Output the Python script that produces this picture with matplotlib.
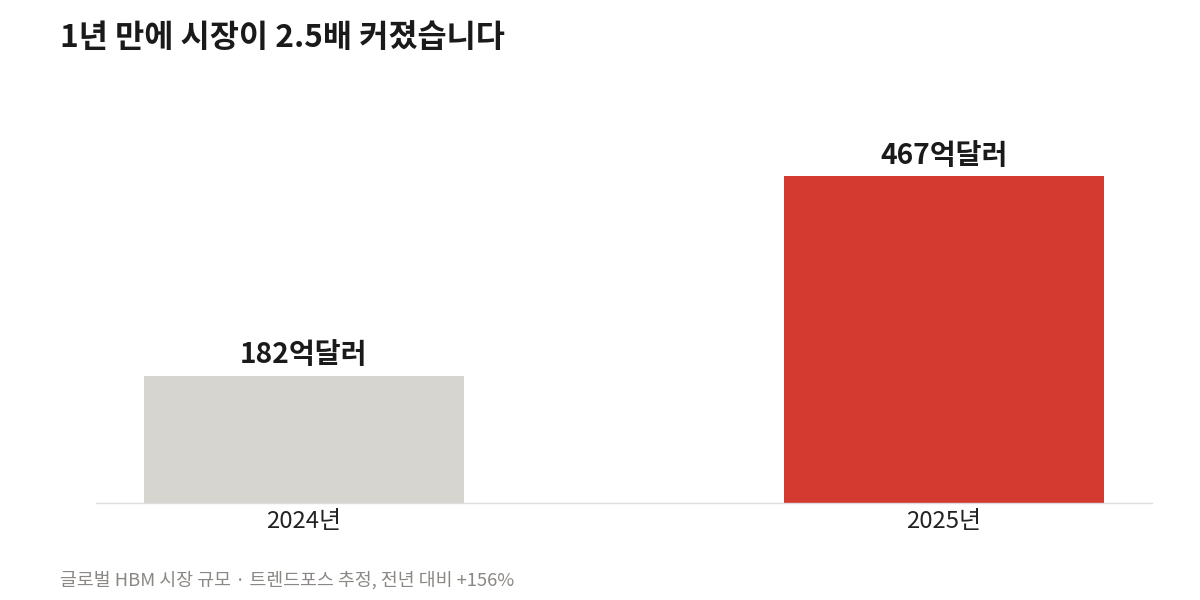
import matplotlib
matplotlib.use("Agg")
import matplotlib.pyplot as plt

plt.rcParams['font.family'] = ['Noto Sans CJK KR', 'DejaVu Sans']

categories = ["2024년", "2025년"]
values = [182, 467]
value_labels = ["182억달러", "467억달러"]
colors = ["#D6D5D0", "#D43A2F"]
title = "1년 만에 시장이 2.5배 커졌습니다"
footer = "글로벌 HBM 시장 규모 · 트렌드포스 추정, 전년 대비 +156%"

fig = plt.figure(figsize=(12, 6), dpi=100)
ax = fig.add_axes([0.08, 0.1617, 0.88, 0.6067])

x = list(range(len(categories)))
bars = ax.bar(x, values, width=0.5, color=colors, zorder=2)
ax.set_xlim(-0.325, 1.325)
ax.set_ylim(0, 520)

for xi, v, lab in zip(x, values, value_labels):
    ax.annotate(lab, (xi, v), xytext=(0, 4.5), textcoords="offset points",
                ha="center", va="bottom", fontsize=20.3, fontweight="bold",
                color="#1a1a1a")

ax.set_xticks(x)
ax.set_xticklabels(categories, fontsize=17.2, color="#222222")
ax.tick_params(axis="x", length=0, pad=5)
ax.set_yticks([])
for s in ["top", "right", "left"]:
    ax.spines[s].set_visible(False)
ax.spines["bottom"].set_color("#DDDDDD")
ax.spines["bottom"].set_linewidth(1)

fig.text(0.05, 1 - 38 / 600, title, fontsize=22.8, fontweight="bold",
         color="#1a1a1a", ha="left", va="center")
fig.text(0.05, 1 - 580 / 600, footer, fontsize=13.2, color="#8a8784",
         ha="left", va="center")

fig.savefig("out.png", dpi=100, facecolor="white")
